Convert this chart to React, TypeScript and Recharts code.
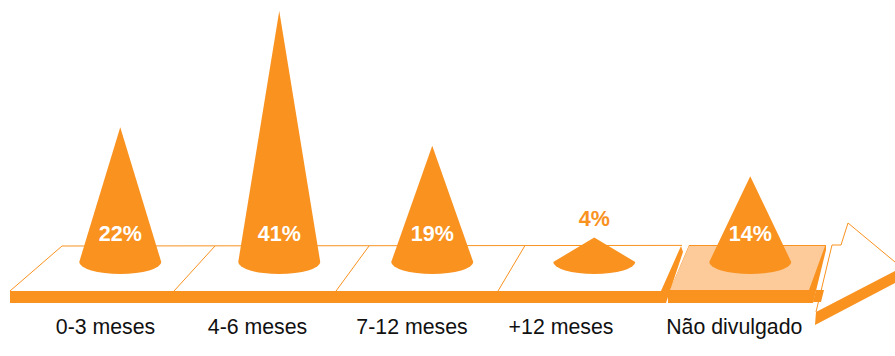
import { BarChart, Bar, XAxis, YAxis, LabelList } from 'recharts';

const periods = ['0-3 meses', '4-6 meses', '7-12 meses', '+12 meses', 'Não divulgado'];
const shares = [22, 41, 19, 4, 14];

const ORANGE = '#F9921F';
const PEACH = '#FDCB9A';
const FONT = '"Liberation Sans", Arial, sans-serif';

// the cones and captions do not sit on an even grid, so each one gets a small shift
const coneShift = [0, 1.5, -3, 1.5, 0];
const captionShift = [-14.5, -20, -23, -31.5, -15.7];

const CONE_BASE_RY = 12;

const chartData = periods.map((period, i) => ({ period, share: shares[i], index: i }));

function Cone(props: any) {
  const { x, y, width, height, index } = props;
  const cx = x + width / 2 + coneShift[index];
  const half = width / 2;
  const base = y + height;
  const d = `M${cx},${y} L${cx + half},${base} A${half},${CONE_BASE_RY} 0 0 1 ${cx - half},${base} Z`;
  return <path d={d} fill={ORANGE} />;
}

function ShareLabel(props: any) {
  const { x, y, width, height, value, index } = props;
  const cx = x + width / 2 + coneShift[index];
  // short cones cannot hold the label, it goes above them in orange
  const inside = height > 40;
  return (
    <text
      x={cx}
      y={inside ? y + height - 21.5 : y - 12}
      textAnchor="middle"
      fontFamily={FONT}
      fontSize={21.5}
      fontWeight="bold"
      fill={inside ? '#fff' : ORANGE}
    >
      {value}%
    </text>
  );
}

function PeriodTick(props: any) {
  const { x, y, payload, index } = props;
  return (
    <text
      x={x + captionShift[index]}
      y={y + 64}
      textAnchor="middle"
      fontFamily={FONT}
      fontSize={21.3}
      fill="#111"
    >
      {payload.value}
    </text>
  );
}

// timeline floor with the highlighted last panel and the arrow head
function Floor() {
  return (
    <svg width={895} height={356} style={{ position: 'absolute', left: 0, top: 0 }}>
      <polyline
        points="10,291 62,246 682,245.4"
        fill="none"
        stroke={ORANGE}
        strokeWidth={1}
      />
      <line x1={215} y1={246} x2={174} y2={291} stroke={ORANGE} />
      <line x1={369} y1={246} x2={336} y2={291} stroke={ORANGE} />
      <line x1={525} y1={245.5} x2={498} y2={291} stroke={ORANGE} />
      <polygon points="10,291 661,291 681,246 683,252 666,303 10,303" fill={ORANGE} />
      <polygon points="689,245 826,245 826,250 813,303 668,303 668,292 670,290" fill={ORANGE} />
      <polygon points="689,246 825,246 809,290 670,290" fill={PEACH} />
      <polygon points="816,290 824,290 821,302 813,302" fill={ORANGE} />
      <polyline
        points="816,312 832,245 841,245 848,223 895,262"
        fill="none"
        stroke={ORANGE}
        strokeWidth={1}
      />
      <polygon points="816,312 895,271 895,283 815,325" fill={ORANGE} />
    </svg>
  );
}

export default function App() {
  return (
    <div style={{ position: 'absolute', left: 0, top: 0, width: 895, height: 356, background: '#fff', overflow: 'hidden' }}>
      <Floor />
      <div style={{ position: 'absolute', left: 0, top: 0 }}>
        <BarChart
          width={895}
          height={356}
          data={chartData}
          margin={{ top: 0, right: 66.25, bottom: 0, left: 41.25 }}
          barCategoryGap={0}
        >
          <XAxis
            dataKey="period"
            height={94}
            axisLine={false}
            tickLine={false}
            interval={0}
            tick={<PeriodTick />}
          />
          <YAxis hide domain={[0, 42.8]} />
          <Bar dataKey="share" barSize={82} shape={<Cone />} isAnimationActive={false}>
            <LabelList dataKey="share" content={<ShareLabel />} />
          </Bar>
        </BarChart>
      </div>
    </div>
  );
}
